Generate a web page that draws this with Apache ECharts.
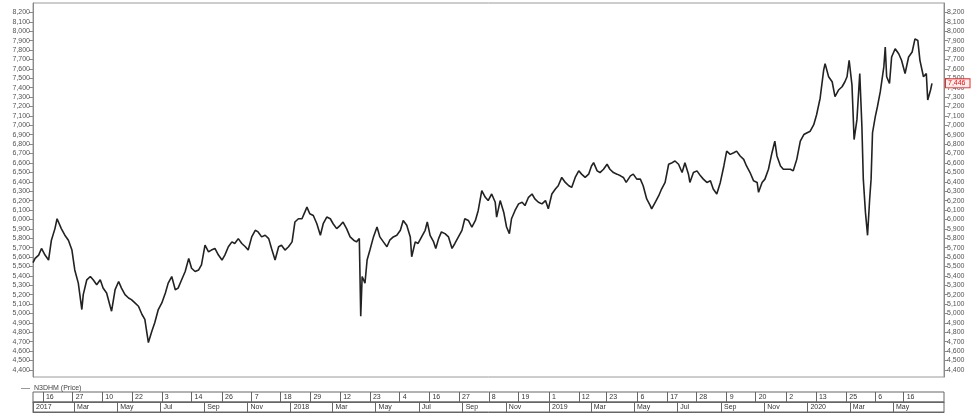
<!DOCTYPE html>
<html>
<head>
<meta charset="utf-8">
<script src="https://cdn.jsdelivr.net/npm/echarts@6/dist/echarts.min.js"></script>
<style>
html,body{margin:0;padding:0;background:#fff;}
#chart{width:976px;height:413px;}
</style>
</head>
<body>
<div id="chart"></div>
<script>
// ---------------- DATA ----------------
const seriesName = 'N3DHM (Price)';
const startDate = '2017-01-02';   // day 0 of obsDay
const axisStartDate = '2017-01-02';
const axisEndDate = '2020-07-12';

// observation dates, as calendar days since startDate
const obsDay = [
0,3,8,12,17,22,26,31,34,40,45,50,55,59,64,69,71,76,81,85,90,95,99,104,109,111,116,121,125,130,135,139,144,149,154,158,163,168,172,177,182,187,191,196,201,205,210,215,220,224,229,234,238,243,248,252,257,262,267,271,276,281,285,290,295,300,304,309,314,318,323,328,333,337,342,347,351,356,361,366,370,375,380,384,387,391,396,401,406,410,415,420,424,429,434,
438,443,448,453,457,461,463,465,469,472,476,481,486,490,495,500,504,509,514,519,523,528,533,535,540,544,549,554,557,561,566,569,573,577,582,587,592,596,601,606,610,615,620,625,629,634,639,643,648,653,655,660,665,669,673,676,681,686,691,695,700,705,709,714,719,724,728,733,738,742,747,752,757,761,766,771,775,780,785,789,792,797,801,806,811,815,820,825,830,834,838,844,848,853,858,
862,867,872,874,879,884,888,893,898,903,907,912,917,921,926,928,933,938,943,947,952,957,961,966,971,976,980,985,990,994,999,1004,1008,1013,1018,1023,1025,1030,1034,1039,1044,1048,1051,1056,1060,1065,1070,1074,1079,1084,1089,1093,1098,1103,1107,1112,1117,1119,1124,1129,1133,1138,1143,1147,1150,1153,1157,1160,1164,1168,1171,1173,1176,1179,1182,1184,1186,1190,1193,1197,1202,1204,1206,1210,1213,1218,1223,1227,1232,1237,1242,1246,1250,1253,1258,1262,1264,1268,1270
];
const price = [
5540,5586,5621,5691,5621,5568,5779,5902,6007,5902,5832,5779,5674,5463,5323,5042,5200,5358,5393,5358,5305,5358,5270,5217,5077,5024,5253,5340,5270,5200,5165,5147,5112,5077,4989,4937,4691,4814,4902,5042,5112,5217,5323,5393,5253,5270,5358,5446,5586,5481,5446,5463,5516,5726,5656,5674,5691,5621,5568,5621,5709,5761,5744,5796,5744,5709,5674,5814,5884,5867,5814,5832,5796,5691,5568,5709,5726,5674,5709,5761,5972,6007,6007,6077,6130,6060,6042,5954,5832,5954,6025,6007,5954,5902,5937,
5972,5902,5814,5779,5761,5796,4972,5393,5323,5568,5674,5814,5919,5814,5761,5709,5779,5814,5831,5884,5989,5937,5814,5603,5761,5744,5814,5884,5972,5831,5761,5691,5796,5867,5849,5814,5691,5744,5814,5884,6007,5989,5919,5989,6095,6305,6235,6200,6270,6182,6025,6200,6077,5919,5849,6007,6095,6165,6182,6147,6235,6270,6218,6182,6165,6200,6112,6270,6323,6358,6446,6393,6358,6340,6446,6516,6481,6446,6481,6568,6603,6516,6498,6533,6586,6533,6498,6481,6463,6446,6393,6463,6481,6428,6428,
6358,6217,6147,6112,6182,6252,6323,6393,6586,6603,6621,6586,6498,6603,6481,6393,6498,6516,6463,6428,6393,6410,6323,6270,6393,6568,6726,6691,6709,6726,6674,6638,6568,6498,6410,6393,6288,6393,6428,6533,6709,6831,6674,6568,6533,6533,6533,6516,6638,6831,6902,6919,6937,7007,7112,7288,7586,7656,7516,7463,7305,7375,7410,7463,7516,7691,7428,6849,7060,7551,6989,6428,6077,5831,6217,6428,6919,7095,7200,7358,7621,7832,7516,7446,7726,7814,7761,7691,7551,7726,7779,7919,7902,7691,7516,7551,7270,7375,7446
];

// y axis tick values (left and right)
const yTicks = [4400,4500,4600,4700,4800,4900,5000,5100,5200,5300,5400,5500,5600,5700,5800,5900,6000,6100,6200,6300,6400,6500,6600,6700,6800,6900,7000,7100,7200,7300,7400,7500,7600,7700,7800,7900,8000,8100,8200];
const yMin = 4325, yMax = 8300;

// first date row
const dayTickDates = ['2017-01-16','2017-02-27','2017-04-10','2017-05-22','2017-07-03','2017-08-14','2017-09-26','2017-11-07','2017-12-18','2018-01-29','2018-03-12','2018-04-23','2018-06-04','2018-07-16','2018-08-27','2018-10-08','2018-11-19','2019-01-01','2019-02-12','2019-03-23','2019-05-06','2019-06-17','2019-07-28','2019-09-09','2019-10-20','2019-12-02','2020-01-13','2020-02-25','2020-04-06','2020-05-16'];
const dayTickLabels = ['16','27','10','22','3','14','26','7','18','29','12','23','4','16','27','8','19','1','12','23','6','17','28','9','20','2','13','25','6','16'];
// second date row
const monthTickDates = ['2017-01-02','2017-03-01','2017-05-01','2017-07-01','2017-09-01','2017-11-01','2018-01-01','2018-03-01','2018-05-01','2018-07-01','2018-09-01','2018-11-01','2019-01-01','2019-03-01','2019-05-01','2019-07-01','2019-09-01','2019-11-01','2020-01-01','2020-03-01','2020-05-01'];
const monthTickLabels = ['2017','Mar','May','Jul','Sep','Nov','2018','Mar','May','Jul','Sep','Nov','2019','Mar','May','Jul','Sep','Nov','2020','Mar','May'];

// ---------------- BUILD ----------------
function dayNum(s){
  const p = s.split('-').map(Number);
  const b = startDate.split('-').map(Number);
  return Math.round((Date.UTC(p[0],p[1]-1,p[2]) - Date.UTC(b[0],b[1]-1,b[2]))/864e5);
}
const xMin = dayNum(axisStartDate), xMax = dayNum(axisEndDate);
const dayTickVals = dayTickDates.map(dayNum);
const monthTickVals = monthTickDates.map(dayNum);
const dayLabelMap = {}; dayTickVals.forEach((v,i)=>dayLabelMap[v]=dayTickLabels[i]);
const monthLabelMap = {}; monthTickVals.forEach((v,i)=>monthLabelMap[v]=monthTickLabels[i]);
const seriesData = obsDay.map((d,i)=>[d, price[i]]);
const lastPrice = price[price.length-1];
const fmt = v => Math.round(v).toLocaleString('en-US');

const FONT = 'Liberation Sans, Arial, sans-serif';
const AX = '#8a8a8a';

const chart = echarts.init(document.getElementById('chart'), null, {renderer:'canvas'});
chart.setOption({
  animation: false,
  backgroundColor: '#ffffff',
  textStyle: {fontFamily: FONT},
  legend: {
    left: 16, top: 380,
    itemWidth: 9, itemHeight: 1, itemGap: 6,
    icon: 'rect',
    itemStyle: {color: '#999'},
    textStyle: {fontSize: 7, color: '#444', fontFamily: FONT, padding: [0,0,0,-1]},
    data: [seriesName]
  },
  grid: [
    {left: 33, right: 32, top: 3, height: 374, show: true, borderColor: '#9a9a9a', borderWidth: 1, backgroundColor: '#fff'},
    {left: 33, right: 32, top: 392, height: 10, show: true, borderColor: '#666', borderWidth: 1},
    {left: 33, right: 32, top: 402, height: 10, show: true, borderColor: '#666', borderWidth: 1}
  ],
  xAxis: [
    {gridIndex: 0, type: 'value', min: xMin, max: xMax, show: false},
    {gridIndex: 1, type: 'value', min: xMin, max: xMax, position: 'bottom',
      axisLine: {show: true, lineStyle: {color: '#666'}},
      splitLine: {show: false},
      axisTick: {show: true, inside: true, length: 10, customValues: dayTickVals, lineStyle: {color: '#666'}},
      axisLabel: {show: true, inside: true, customValues: dayTickVals, margin: 1.5,
        formatter: v => dayLabelMap[v] || '', align: 'left', padding: [0,0,0,3],
        fontSize: 7, color: '#333', fontFamily: FONT, hideOverlap: false}
    },
    {gridIndex: 2, type: 'value', min: xMin, max: xMax, position: 'bottom',
      axisLine: {show: true, lineStyle: {color: '#666'}},
      splitLine: {show: false},
      axisTick: {show: true, inside: true, length: 10, customValues: monthTickVals, lineStyle: {color: '#666'}},
      axisLabel: {show: true, inside: true, customValues: monthTickVals, margin: 1.5,
        formatter: v => monthLabelMap[v] || '', align: 'left', padding: [0,0,0,3],
        fontSize: 7, color: '#333', fontFamily: FONT, hideOverlap: false}
    }
  ],
  yAxis: [
    {gridIndex: 0, type: 'value', min: yMin, max: yMax, position: 'left',
      axisLine: {show: true, lineStyle: {color: AX}},
      splitLine: {show: false},
      axisTick: {show: true, length: 4, customValues: yTicks, lineStyle: {color: AX}},
      axisLabel: {customValues: yTicks, formatter: fmt, fontSize: 7, color: '#555', margin: 3, fontFamily: FONT}
    },
    {gridIndex: 0, type: 'value', min: yMin, max: yMax, position: 'right',
      axisLine: {show: true, lineStyle: {color: AX}},
      splitLine: {show: false},
      axisTick: {show: true, length: 4, customValues: yTicks, lineStyle: {color: AX}},
      axisLabel: {customValues: yTicks, formatter: fmt, fontSize: 7, color: '#555', margin: 3, fontFamily: FONT}
    },
    {gridIndex: 0, type: 'value', min: yMin, max: yMax, position: 'right', z: 10,
      axisLine: {show: false}, axisTick: {show: false}, splitLine: {show: false},
      axisLabel: {customValues: [lastPrice], formatter: fmt, fontSize: 7, color: '#e01010',
        backgroundColor: '#ffecec', borderColor: '#e03030', borderWidth: 1, padding: [1,4,0,2], margin: 2, fontFamily: FONT}
    },
    {gridIndex: 1, type: 'value', show: false},
    {gridIndex: 2, type: 'value', show: false}
  ],
  series: [{
    name: seriesName,
    type: 'line',
    xAxisIndex: 0, yAxisIndex: 0,
    data: seriesData,
    showSymbol: false, symbol: 'none',
    lineStyle: {color: '#222', width: 1.6},
    itemStyle: {color: '#999'}
  }]
});
</script>
</body>
</html>
